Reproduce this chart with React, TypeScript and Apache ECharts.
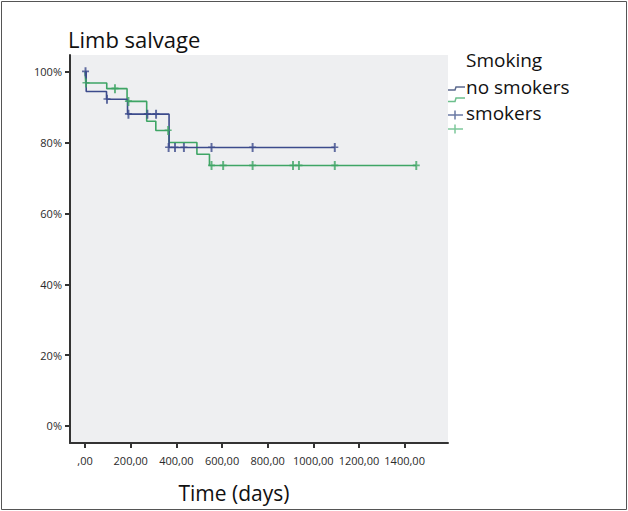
import { useEffect, useRef } from "react";
import * as echarts from "echarts";

// Axis ticks
const xTicks = [0, 200, 400, 600, 800, 1000, 1200, 1400];
const yTicks = [0, 20, 40, 60, 80, 100];

// Kaplan-Meier steps (days, % limb salvage)
const noSmokersTimes = [0, 5, 94, 186, 368, 1094];
const noSmokersSurvival = [100, 94.4, 92.2, 88.0, 78.6, 78.6];
const noSmokersCensorTimes = [2, 96, 190, 273, 311, 366, 394, 433, 554, 734, 1094];
const noSmokersCensorSurvival = [100, 92.2, 88.0, 88.0, 88.0, 78.6, 78.6, 78.6, 78.6, 78.6, 78.6];

const smokersTimes = [0, 3, 95, 184, 270, 310, 368, 490, 545, 1451];
const smokersSurvival = [100, 96.8, 95.2, 91.6, 86.0, 83.4, 80.0, 76.7, 73.5, 73.5];
const smokersCensorTimes = [4, 131, 190, 364, 554, 605, 734, 911, 937, 1094, 1451];
const smokersCensorSurvival = [96.8, 95.2, 91.6, 83.4, 73.5, 73.5, 73.5, 73.5, 73.5, 73.5, 73.5];

const BLUE = "#3c4b8c";
const GREEN = "#3ea565";
const FONT = "'Open Sans', 'Noto Sans', sans-serif";
// censor mark: a plus sign with a heavier vertical stroke
const PLUS = "path://M3.6,0H6.4V4.2H10V6.2H6.4V11H3.6V6.2H0V4.2H3.6Z";

const zip = (a: number[], b: number[]) => a.map((t, i) => [t, b[i]]);

export default function App() {
  const ref = useRef<HTMLDivElement>(null);

  useEffect(() => {
    if (!ref.current) return;
    const chart = echarts.init(ref.current, null, { renderer: "svg" });

    const legendX = 448;
    chart.setOption({
      animation: false,
      backgroundColor: "#ffffff",
      grid: {
        left: 70,
        top: 55,
        right: 180,
        bottom: 68,
        show: true,
        backgroundColor: "#eeeff1",
        borderWidth: 0,
      },
      xAxis: {
        type: "value",
        min: -66,
        max: 1590,
        splitLine: { show: false },
        axisLine: { show: true, onZero: false, lineStyle: { color: "#333", width: 2 } },
        axisTick: {
          show: true,
          length: 5,
          customValues: xTicks,
          lineStyle: { color: "#333", width: 2 },
        },
        axisLabel: {
          customValues: xTicks,
          margin: 12,
          color: "#2a2a2a",
          fontSize: 11,
          fontFamily: FONT,
          formatter: (v: number) => (v === 0 ? ",00" : `${v},00`),
        },
      },
      yAxis: {
        type: "value",
        min: -4.8,
        max: 104.7,
        splitLine: { show: false },
        axisLine: { show: true, onZero: false, lineStyle: { color: "#333", width: 2 } },
        axisTick: {
          show: true,
          length: 5,
          customValues: yTicks,
          lineStyle: { color: "#333", width: 2 },
        },
        axisLabel: {
          customValues: yTicks,
          margin: 8,
          color: "#2a2a2a",
          fontSize: 11,
          fontFamily: FONT,
          formatter: (v: number) => `${v}%`,
        },
      },
      series: [
        {
          name: "no smokers",
          type: "line",
          step: "end",
          data: zip(noSmokersTimes, noSmokersSurvival),
          showSymbol: false,
          lineStyle: { color: BLUE, width: 1.6 },
          z: 3,
        },
        {
          name: "smokers",
          type: "line",
          step: "end",
          data: zip(smokersTimes, smokersSurvival),
          showSymbol: false,
          lineStyle: { color: GREEN, width: 1.6 },
          z: 2,
        },
        {
          name: "no smokers-censored",
          type: "scatter",
          data: zip(noSmokersCensorTimes, noSmokersCensorSurvival),
          symbol: PLUS,
          symbolSize: [7, 9],
          itemStyle: { color: BLUE },
          z: 5,
        },
        {
          name: "smokers-censored",
          type: "scatter",
          data: zip(smokersCensorTimes, smokersCensorSurvival),
          symbol: PLUS,
          symbolSize: [7, 9],
          itemStyle: { color: GREEN },
          z: 4,
        },
      ],
      graphic: [
        {
          type: "rect",
          shape: { x: 1.5, y: 1.5, width: 625, height: 508 },
          style: { fill: "none", stroke: "#555", lineWidth: 1 },
          silent: true,
        },
        {
          type: "text",
          x: 68,
          y: 39,
          style: {
            text: "Limb salvage",
            font: `22px ${FONT}`,
            fill: "#111",
            verticalAlign: "middle",
          },
        },
        {
          type: "text",
          x: 234,
          y: 493,
          style: {
            text: "Time (days)",
            font: `21px ${FONT}`,
            fill: "#111",
            align: "center",
            verticalAlign: "middle",
          },
        },
        {
          type: "text",
          x: 466,
          y: 60,
          style: { text: "Smoking", font: `19px ${FONT}`, fill: "#111", verticalAlign: "middle" },
        },
        {
          type: "text",
          x: 466,
          y: 87,
          style: { text: "no smokers", font: `19px ${FONT}`, fill: "#111", verticalAlign: "middle" },
        },
        {
          type: "text",
          x: 466,
          y: 113,
          style: { text: "smokers", font: `19px ${FONT}`, fill: "#111", verticalAlign: "middle" },
        },
        {
          type: "polyline",
          shape: { points: [[legendX, 90], [legendX + 7, 90], [legendX + 8, 87], [legendX + 17, 87]] },
          style: { stroke: "#5c6a8e", lineWidth: 1.5, fill: "none" },
        },
        {
          type: "polyline",
          shape: { points: [[legendX, 101.5], [legendX + 7, 101.5], [legendX + 8, 98], [legendX + 17, 98]] },
          style: { stroke: "#6cbf8c", lineWidth: 1.5, fill: "none" },
        },
        {
          type: "line",
          shape: { x1: legendX, y1: 115, x2: legendX + 15, y2: 115 },
          style: { stroke: "#6a79a3", lineWidth: 1.5 },
        },
        {
          type: "line",
          shape: { x1: legendX + 7, y1: 110.5, x2: legendX + 7, y2: 119.5 },
          style: { stroke: "#6a79a3", lineWidth: 1.5 },
        },
        {
          type: "line",
          shape: { x1: legendX, y1: 129, x2: legendX + 15, y2: 129 },
          style: { stroke: "#7cc79a", lineWidth: 1.5 },
        },
        {
          type: "line",
          shape: { x1: legendX + 7, y1: 124.5, x2: legendX + 7, y2: 133.5 },
          style: { stroke: "#7cc79a", lineWidth: 1.5 },
        },
      ],
    });

    return () => chart.dispose();
  }, []);

  return (
    <div
      ref={ref}
      style={{ position: "fixed", left: 0, top: 0, width: 628, height: 511 }}
    />
  );
}
